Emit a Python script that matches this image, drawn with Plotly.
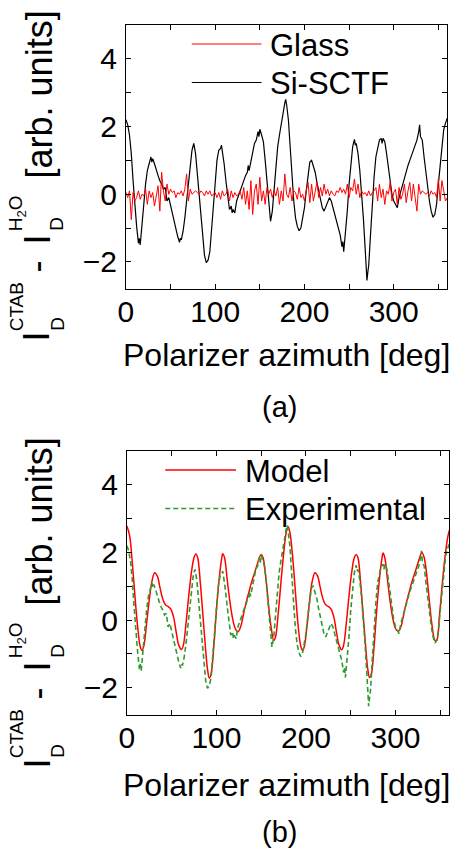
import plotly.graph_objects as go

# ---------------- data ----------------
glass_deg = list(range(0, 361, 2))
glass_val = [
    0.05, -0.1, 0.1, -0.75, 0.05, -0.2, -0.1, 0.1, -0.15, 0.0,      # 0-18
    -0.05, 0.15, -0.3, 0.1, -0.1, 0.05, -0.35, -0.05, 0.25, -0.5,   # 20-38
    0.65, 0.1, -0.2, 0.3, 0.0, 0.15, 0.05, 0.1, -0.1, 0.05,         # 40-58
    0.0, 0.1, -0.05, 0.15, 0.6, -0.2, 0.15, 0.0, 0.05, 0.1,         # 60-78
    0.05, 0.0, 0.1, 0.05, -0.05, 0.1, 0.0, 0.1, -0.05, 0.0,         # 80-98
    0.05, -0.1, 0.05, -0.15, 0.1, -0.05, 0.0, 0.15, -0.2, 0.1,      # 100-118
    -0.1, 0.05, -0.05, 0.0, 0.1, -0.15, 0.2, -0.3, 0.1, -0.45,      # 120-138
    0.4, -0.6, 0.1, 0.3, -0.3, 0.5, -0.2, 0.1, -0.3, 0.2,           # 140-158
    0.0, 0.15, -0.1, 0.1, -0.05, 0.2, -0.3, 0.1, -0.2, 0.6,         # 160-178
    0.0, -0.1, 0.2, -0.2, 0.1, 0.05, -0.15, 0.2, -0.1, 0.0,         # 180-198
    -0.2, 0.1, 0.35, -0.25, 0.3, -0.2, 0.1, 0.35, -0.1, 0.2,        # 200-218
    -0.05, 0.3, 0.0, 0.15, -0.05, 0.1, 0.0, -0.05, 0.1, 0.05,       # 220-238
    0.2, 0.05, 0.15, 0.0, 0.3, -0.1, 0.2, 0.1, 0.45, 0.0,           # 240-258
    0.3, -0.1, 0.1, 0.0, 0.05, -0.05, 0.1, -0.05, 0.05, 0.1,        # 260-278
    0.2, -0.2, 0.3, -0.1, 0.15, -0.3, 0.1, 0.0, 0.35, -0.2,         # 280-298
    0.05, 0.15, -0.3, 0.2, -0.15, 0.0, 0.3, -0.25, 0.1, 0.35,       # 300-318
    -0.2, 0.3, -0.1, -0.5, 0.3, 0.0, 0.1, 0.05, 0.0, 0.05,          # 320-338
    -0.05, 0.1, 0.0, 0.05, -0.1, 0.45, -0.2, 0.4, 0.1, -0.2,        # 340-358
    -0.1,                                                           # 360
]

sctf_deg = [
    0, 2, 4, 6, 8, 10, 12, 14, 15, 16,
    18, 20, 22, 24, 26, 28, 29, 30, 32, 34,
    36, 38, 40, 42, 44, 45, 46, 48, 50, 52,
    54, 56, 58, 60, 61, 62, 64, 66, 68, 70,
    72, 74, 76, 77, 78, 80, 82, 84, 86, 88,
    90, 92, 94, 96, 98, 100, 102, 104, 106, 107,
    108, 110, 112, 114, 116, 118, 119, 120, 122, 124,
    126, 128, 130, 132, 134, 136, 137, 138, 140, 142,
    144, 146, 148, 149, 150, 152, 154, 156, 158, 160,
    162, 164, 166, 168, 170, 172, 174, 176, 178, 179,
    180, 182, 184, 186, 188, 190, 192, 194, 196, 198,
    200, 202, 204, 206, 208, 210, 212, 214, 216, 218,
    220, 222, 224, 226, 228, 230, 232, 234, 236, 238,
    240, 242, 243, 244, 246, 248, 250, 252, 254, 256,
    257, 258, 260, 262, 264, 266, 268, 270, 271, 272,
    274, 276, 278, 280, 282, 284, 286, 287, 288, 290,
    292, 294, 296, 298, 300, 302, 304, 306, 308, 310,
    312, 314, 316, 318, 320, 322, 324, 326, 328, 329,
    330, 332, 334, 336, 338, 340, 342, 344, 346, 348,
    350, 352, 354, 356, 358, 360,
]
sctf_val = [
    2.2, 2.05, 1.75, 1.2, 0.4, -0.4, -0.95, -1.45, -1.3, -1.5,
    -0.9, -0.2, 0.3, 0.7, 0.95, 1.1, 0.95, 1.05, 0.9, 0.7,
    0.55, 0.4, 0.3, 0.15, 0.2, 0.0, -0.2, -0.1, -0.35, -0.5,
    -0.8, -1.0, -1.25, -1.42, -1.3, -1.35, -1.1, -0.7, -0.2, 0.4,
    0.9, 1.3, 1.5, 1.35, 1.2, 0.6, 0.0, -0.6, -1.3, -1.8,
    -2.02, -1.95, -1.7, -1.0, -0.3, 0.5, 1.0, 1.3, 1.35, 1.45,
    1.3, 0.9, 0.4, -0.1, -0.45, -0.35, -0.55, -0.45, -0.55, -0.2,
    -0.05, 0.15, 0.3, 0.45, 0.55, 0.65, 0.85, 0.7, 1.0, 1.2,
    1.5, 1.6, 1.85, 1.7, 1.92, 1.75, 1.55, 1.0, 0.4, -0.4,
    -0.8, -0.5, 0.1, 0.9, 1.4, 1.75, 2.1, 2.45, 2.7, 2.8,
    2.65, 2.2, 1.3, 0.5, -0.2, -0.7, -0.95, -1.08, -1.0, -0.7,
    -0.4, 0.1, 0.6, 0.95, 1.0, 0.85, 0.65, 0.35, 0.1, -0.1,
    -0.4, -0.5, -0.35, -0.2, -0.1, -0.2, -0.4, -0.6, -0.8, -1.05,
    -1.2, -1.55, -1.4, -1.7, -1.2, -0.5, 0.3, 0.9, 1.4, 1.62,
    1.45, 1.5, 1.2, 0.7, 0.1, -0.7, -1.6, -2.55, -2.3, -2.1,
    -1.2, -0.3, 0.5, 1.1, 1.4, 1.6, 1.65, 1.5, 1.65, 1.55,
    1.2, 0.8, 0.3, 0.0, -0.2, -0.3, -0.4, -0.1, 0.1, 0.3,
    0.5, 0.7, 0.85, 1.0, 1.15, 1.3, 1.4, 1.6, 1.85, 2.05,
    1.7, 1.6, 1.1, 0.6, 0.2, -0.2, -0.5, -0.68, -0.6, -0.3,
    0.3, 0.9, 1.5, 1.9, 2.1, 2.25,
]

model_deg = [
    0, 3, 6, 9, 12, 15, 17, 19, 22, 25,
    28, 31, 34, 37, 40, 43, 46, 49, 52, 55,
    58, 61, 63, 66, 69, 72, 75, 77, 79, 82,
    85, 88, 90, 92, 94, 97, 100, 103, 106, 107,
    109, 112, 115, 118, 121, 124, 127, 130, 133, 136,
    139, 142, 145, 148, 150, 152, 155, 158, 161, 164,
    166, 169, 172, 175, 178, 180, 182, 185, 188, 191,
    194, 196, 198, 201, 204, 207, 210, 213, 216, 219,
    222, 225, 228, 231, 234, 237, 240, 242, 245, 248,
    251, 254, 256, 258, 261, 264, 267, 269, 271, 273,
    276, 279, 282, 285, 286, 288, 291, 294, 297, 300,
    303, 306, 309, 312, 315, 318, 321, 324, 327, 329.5,
    332, 335, 338, 341, 344, 346, 349, 352, 355, 358, 360,
]
model_val = [
    2.78, 2.5, 1.7, 0.7, -0.2, -0.8, -0.9, -0.75, -0.1, 0.6,
    1.15, 1.4, 1.3, 0.95, 0.62, 0.45, 0.4, 0.32, 0.1, -0.35,
    -0.75, -0.87, -0.75, -0.1, 0.7, 1.4, 1.85, 1.95, 1.85, 1.1,
    0.1, -0.9, -1.45, -1.72, -1.6, -0.8, 0.3, 1.2, 1.85, 1.96,
    1.85, 1.2, 0.55, 0.05, -0.25, -0.35, -0.2, 0.15, 0.5, 0.8,
    1.1, 1.35, 1.6, 1.85, 1.94, 1.85, 1.3, 0.5, -0.2, -0.6,
    -0.5, 0.2, 1.1, 1.95, 2.6, 2.77, 2.6, 1.9, 0.9, -0.1,
    -0.75, -0.9, -0.8, -0.2, 0.55, 1.15, 1.4, 1.3, 0.95, 0.62,
    0.45, 0.4, 0.32, 0.1, -0.35, -0.75, -0.88, -0.75, -0.1, 0.7,
    1.4, 1.85, 1.94, 1.85, 1.1, 0.1, -0.9, -1.45, -1.70, -1.6,
    -0.8, 0.3, 1.2, 1.85, 1.98, 1.85, 1.2, 0.55, 0.05, -0.25,
    -0.34, -0.2, 0.15, 0.5, 0.8, 1.1, 1.35, 1.6, 1.85, 2.0,
    1.85, 1.3, 0.5, -0.2, -0.6, -0.6, 0.1, 1.0, 1.8, 2.4, 2.65,
]

x_ticks = [0, 100, 200, 300]
y_ticks = [-2, 0, 2, 4]
x_range = [0, 360]
y_range = [-2.8, 5]

# ---------------- layout helpers ----------------
W, H = 463, 852
FONT = "Liberation Sans, Arial, sans-serif"
RED = "#ff0000"
GREEN = "#2e9a2e"


def px(x):
    return x / W


def py(y):
    return 1 - y / H


fig = go.Figure()

# top panel
fig.add_trace(go.Scatter(x=sctf_deg, y=sctf_val, mode="lines", name="Si-SCTF",
                         line=dict(color="black", width=1.2), xaxis="x", yaxis="y",
                         showlegend=False))
fig.add_trace(go.Scatter(x=glass_deg, y=glass_val, mode="lines", name="Glass",
                         line=dict(color=RED, width=1), xaxis="x", yaxis="y",
                         showlegend=False))
# bottom panel
fig.add_trace(go.Scatter(x=model_deg, y=model_val, mode="lines", name="Model",
                         line=dict(color=RED, width=1.5, shape="spline", smoothing=1),
                         xaxis="x2", yaxis="y2", showlegend=False))
fig.add_trace(go.Scatter(x=sctf_deg, y=sctf_val, mode="lines", name="Experimental",
                         line=dict(color=GREEN, width=1.6, dash="5px,3px"),
                         xaxis="x2", yaxis="y2", showlegend=False))

axis_common = dict(showline=True, linecolor="black", linewidth=1, mirror="allticks",
                   ticks="inside", ticklen=5, tickcolor="black", showgrid=False,
                   zeroline=False, tickfont=dict(family=FONT, size=30, color="black"))

fig.update_layout(
    width=W, height=H, margin=dict(l=0, r=0, t=0, b=0),
    paper_bgcolor="white", plot_bgcolor="white", showlegend=False,
    xaxis=dict(domain=[px(120), px(447)], range=x_range, tickvals=x_ticks,
               minor=dict(dtick=50, tick0=0, ticks="inside", ticklen=5, tickcolor="black"),
               anchor="y", ticklabelstandoff=-4, **axis_common),
    yaxis=dict(domain=[py(289), py(25)], range=y_range, tickvals=y_ticks,
               minor=dict(dtick=1, tick0=0, ticks="inside", ticklen=5, tickcolor="black"),
               anchor="x", ticklabelstandoff=2, **axis_common),
    xaxis2=dict(domain=[px(121), px(449)], range=x_range, tickvals=x_ticks,
                minor=dict(dtick=50, tick0=0, ticks="inside", ticklen=5, tickcolor="black"),
                anchor="y2", ticklabelstandoff=-4, **axis_common),
    yaxis2=dict(domain=[py(714.7), py(451)], range=y_range, tickvals=y_ticks,
                minor=dict(dtick=1, tick0=0, ticks="inside", ticklen=5, tickcolor="black"),
                anchor="x2", ticklabelstandoff=2, **axis_common),
)

annotations = []
shapes = []


def text(x, y, s, size, xanchor="center", yanchor="middle", angle=0):
    annotations.append(dict(x=px(x), y=py(y), xref="paper", yref="paper", text=s,
                            showarrow=False, xanchor=xanchor, yanchor=yanchor,
                            textangle=angle, borderpad=0, borderwidth=0,
                            font=dict(family=FONT, size=size, color="black")))


def ytitle(dy):
    big, small = 36, 19
    text(30, 341 + dy, "I", big, yanchor="bottom", angle=-90)
    text(49.5, 331 + dy, "D", small, yanchor="bottom", angle=-90)
    text(9, 331 + dy, "CTAB", small, yanchor="bottom", angle=-90)
    text(30, 272 + dy, "-", big, yanchor="bottom", angle=-90)
    text(30, 244 + dy, "I", big, yanchor="bottom", angle=-90)
    text(49.5, 231 + dy, "D", small, yanchor="bottom", angle=-90)
    text(9.5, 231 + dy, "H<sub>2</sub>O", small, yanchor="bottom", angle=-90)
    text(32, 178 + dy, "[arb. units]", big, yanchor="bottom", angle=-90)


def legend(x0, x1, ytop, labels, styles):
    for i, (lab, st) in enumerate(zip(labels, styles)):
        yy = ytop + i * 38.5
        shapes.append(dict(type="line", xref="paper", yref="paper",
                           x0=px(x0), x1=px(x1), y0=py(yy), y1=py(yy), line=st))
        text(x1 + 9, yy + 1, lab, 31, xanchor="left")


ytitle(0)
ytitle(427)
text(283, 355, "Polarizer azimuth [deg]", 32)
text(283, 785, "Polarizer azimuth [deg]", 32)
text(276, 407, "(a)", 29)
text(276, 832, "(b)", 29)

legend(187, 258, 44, ["Glass", "Si-SCTF"],
       [dict(color=RED, width=1.2), dict(color="black", width=1.2)])
legend(160, 232, 470, ["Model", "Experimental"],
       [dict(color=RED, width=1.5), dict(color=GREEN, width=1.6, dash="5px,3px")])

fig.update_layout(annotations=annotations, shapes=shapes)
fig.write_html("out.html")
